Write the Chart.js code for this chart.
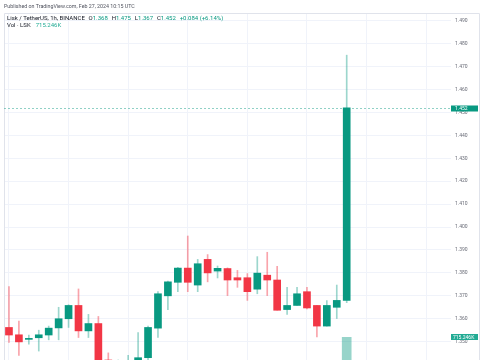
<!DOCTYPE html>
<html>
<head>
<meta charset="utf-8">
<title>LSK/USDT 1h</title>
<script src="https://cdn.jsdelivr.net/npm/chart.js@4.4.1/dist/chart.umd.min.js"></script>
<style>
  html, body { margin: 0; padding: 0; background: #fff; }
  #wrap { position: relative; width: 485px; height: 360px; overflow: hidden; }
  canvas { position: absolute; left: 0; top: 0; }
  .txt {
    position: absolute;
    font-family: Roboto, "Liberation Sans", sans-serif;
    font-size: 6px;
    line-height: 7px;
    white-space: nowrap;
    color: #131722;
  }
  .pub { font-size: 5.3px; color: #50535e; }
  .grp { margin-left: 3.8px; }
  .up { color: #089981; }
  .vol { color: #22ab94; margin-left: 5px; }
</style>
</head>
<body>
<div id="wrap">
  <canvas id="chart" width="485" height="400"></canvas>
  <div class="txt pub" style="left:4px; top:2.7px;">Published on TradingView.com, Feb 27, 2024 10:15 UTC</div>
  <div class="txt" id="legend1" style="left:7px; top:13.8px;"></div>
  <div class="txt" id="legend2" style="left:7px; top:20.5px;"></div>
</div>
<script>
// heures (1h), du 26 fév 00:00 au 27 fév 10:00, puis cases vides à droite
const labels = [
  '00:00','01:00','02:00','03:00','04:00','05:00','06:00','07:00','08:00','09:00',
  '10:00','11:00','12:00','13:00','14:00','15:00','16:00','17:00','18:00','19:00',
  '20:00','21:00','22:00','23:00','27','01:00','02:00','03:00','04:00','05:00',
  '06:00','07:00','08:00','09:00','10:00','11:00','12:00','13:00','14:00','15:00',
  '16:00','17:00','18:00','19:00','20:00'
];

const open = [
  1.3562, 1.3530, 1.3510, 1.3517, 1.3529, 1.3560, 1.3600, 1.3658, 1.3547, 1.3579,
  1.3420, 1.3360, 1.3390, 1.3400, 1.3430, 1.3559, 1.3700, 1.3759, 1.3821, 1.3747,
  1.3859, 1.3808, 1.3819, 1.3779, 1.3779, 1.3729, 1.3790, 1.3769, 1.3640, 1.3658,
  1.3718, 1.3658, 1.3568, 1.3650, 1.368
];
const high = [
  1.3740, 1.3590, 1.3529, 1.3550, 1.3568, 1.3650, 1.3661, 1.3730, 1.3619, 1.3610,
  1.3451, 1.3420, 1.3440, 1.3540, 1.3568, 1.3718, 1.3764, 1.3824, 1.3961, 1.3859,
  1.3880, 1.3830, 1.3822, 1.3811, 1.3797, 1.3871, 1.3890, 1.3829, 1.3737, 1.3737,
  1.3737, 1.3658, 1.3679, 1.3747, 1.475
];
const low = [
  1.3497, 1.3440, 1.3489, 1.3459, 1.3508, 1.3508, 1.3562, 1.3518, 1.3518, 1.3380,
  1.3330, 1.3300, 1.3320, 1.3380, 1.3410, 1.3518, 1.3640, 1.3718, 1.3718, 1.3718,
  1.3761, 1.3778, 1.3701, 1.3737, 1.3680, 1.3709, 1.3701, 1.3637, 1.3619, 1.3658,
  1.3643, 1.3521, 1.3568, 1.3601, 1.367
];
const close = [
  1.3529, 1.3499, 1.3511, 1.3530, 1.3559, 1.3600, 1.3658, 1.3547, 1.3579, 1.3420,
  1.3360, 1.3390, 1.3400, 1.3430, 1.3562, 1.3709, 1.3761, 1.3821, 1.3759, 1.3840,
  1.3800, 1.3820, 1.3769, 1.3769, 1.3718, 1.3799, 1.3769, 1.3637, 1.3658, 1.3709,
  1.3647, 1.3568, 1.3658, 1.3680, 1.452
];
const volume = [
  210000, 180000, 95000, 120000, 110000, 160000, 190000, 260000, 140000, 330000,
  290000, 250000, 180000, 220000, 240000, 380000, 260000, 230000, 340000, 250000,
  170000, 90000, 150000, 110000, 160000, 200000, 180000, 260000, 140000, 120000,
  150000, 230000, 190000, 170000, 715246
];

const UP = '#089981', DOWN = '#f23645';
const GRID = '#f0f3fa';
const FONT = 'Roboto, "Liberation Sans", sans-serif';

const isUp = close.map((c, i) => c >= open[i]);
const last = close.length - 1;

// légende en haut à gauche
const chg = close[last] - close[last - 1];
const pct = chg / close[last - 1] * 100;
document.getElementById('legend1').innerHTML =
  'Lisk / TetherUS, 1h, BINANCE' +
  '<span class="grp">O<span class="up">' + open[last].toFixed(3) + '</span></span>' +
  '<span class="grp">H<span class="up">' + high[last].toFixed(3) + '</span></span>' +
  '<span class="grp">L<span class="up">' + low[last].toFixed(3) + '</span></span>' +
  '<span class="grp">C<span class="up">' + close[last].toFixed(3) + '</span></span>' +
  '<span class="grp up">+' + chg.toFixed(3) + ' (+' + pct.toFixed(2) + '%)</span>';
document.getElementById('legend2').innerHTML =
  'Vol · LSK<span class="vol">' + (volume[last] / 1000).toFixed(3) + 'K</span>';

// cadre du panneau + étiquettes de prix / volume
const paneDecor = {
  id: 'paneDecor',
  afterDraw(chart) {
    const ctx = chart.ctx;
    const area = chart.chartArea;
    const y = chart.scales.y, yv = chart.scales.yv;

    ctx.save();
    ctx.strokeStyle = '#e0e3eb';
    ctx.lineWidth = 1;
    ctx.beginPath();
    ctx.moveTo(4.5, 400);
    ctx.lineTo(4.5, 13.5);
    ctx.lineTo(479.5, 13.5);
    ctx.lineTo(479.5, 400);
    ctx.stroke();

    // ligne pointillée du dernier prix
    const py = Math.round(y.getPixelForValue(close[last])) + 0.5;
    ctx.strokeStyle = 'rgba(8,153,129,0.45)';
    ctx.setLineDash([2, 2]);
    ctx.beginPath();
    ctx.moveTo(area.left, py);
    ctx.lineTo(area.right, py);
    ctx.stroke();
    ctx.setLineDash([]);

    ctx.font = '5px ' + FONT;
    ctx.textBaseline = 'middle';
    ctx.fillStyle = UP;
    ctx.fillRect(area.right, py - 3, 27, 6);
    ctx.fillStyle = '#fff';
    ctx.fillText(close[last].toFixed(3), area.right + 4, py + 0.3);

    const vy = Math.round(yv.getPixelForValue(volume[last]));
    ctx.fillStyle = '#22ab94';
    ctx.fillRect(area.right, vy - 3, 27, 6);
    ctx.fillStyle = '#fff';
    ctx.fillText((volume[last] / 1000).toFixed(3) + 'K', area.right + 2, vy + 0.3);
    ctx.restore();
  }
};

const ctx = document.getElementById('chart').getContext('2d');
new Chart(ctx, {
  type: 'bar',
  data: {
    labels: labels,
    datasets: [
      {
        label: 'Corps',
        data: open.map((o, i) => [o, close[i]]),
        backgroundColor: isUp.map(u => u ? UP : DOWN),
        barThickness: 7,
        minBarLength: 1,
        grouped: false,
        order: 0,
        yAxisID: 'y'
      },
      {
        label: 'Mèches',
        data: low.map((l, i) => [l, high[i]]),
        backgroundColor: isUp.map(u => u ? 'rgba(8,153,129,0.4)' : 'rgba(242,54,69,0.45)'),
        barThickness: 1,
        grouped: false,
        order: 1,
        yAxisID: 'y'
      },
      {
        label: 'Volume',
        data: volume,
        backgroundColor: isUp.map(u => u ? 'rgba(8,153,129,0.42)' : 'rgba(242,54,69,0.42)'),
        barThickness: 9,
        grouped: false,
        order: 2,
        yAxisID: 'yv'
      }
    ]
  },
  options: {
    responsive: false,
    animation: false,
    layout: { padding: { left: 4, top: 13, right: 0, bottom: 0 } },
    plugins: { legend: { display: false }, tooltip: { enabled: false } },
    scales: {
      x: {
        offset: true,
        grid: {
          offset: false,
          drawTicks: false,
          color: c => (c.index % 6 === 0 ? GRID : 'rgba(0,0,0,0)')
        },
        border: { display: false },
        ticks: { display: false, autoSkip: false }
      },
      y: {
        position: 'right',
        min: 1.3276,
        max: 1.4934,
        grid: { drawTicks: false, color: GRID },
        border: { display: false },
        ticks: {
          stepSize: 0.01,
          includeBounds: false,
          padding: 4,
          color: '#6a6d78',
          font: { size: 5, family: FONT },
          callback: v => v.toFixed(3)
        },
        afterFit: s => { s.width = 34; }
      },
      yv: {
        display: false,
        min: 0,
        max: 4880000
      }
    }
  },
  plugins: [paneDecor]
});
</script>
</body>
</html>
